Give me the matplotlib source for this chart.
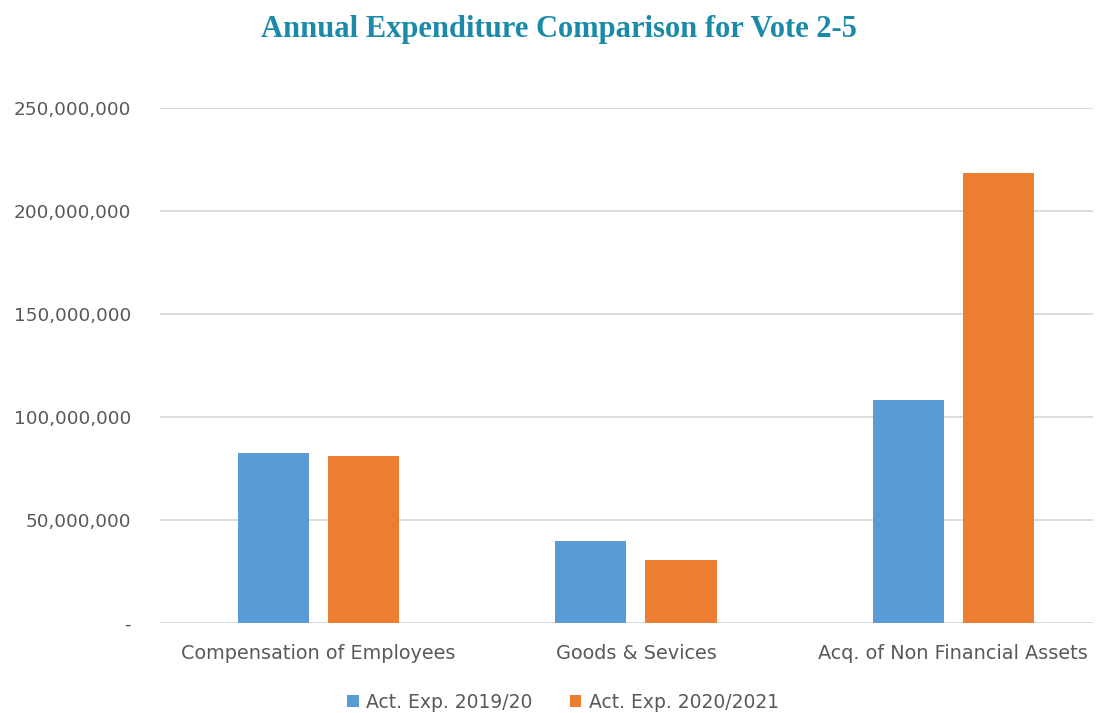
import matplotlib
matplotlib.use("Agg")
import matplotlib.pyplot as plt
import numpy as np
from matplotlib.ticker import FuncFormatter

categories = ["Compensation of Employees", "Goods & Sevices", "Acq. of Non Financial Assets"]
exp_2019 = [82.5e6, 39.8e6, 108.3e6]
exp_2020 = [81.1e6, 30.6e6, 218.4e6]
series_labels = ["Act. Exp. 2019/20", "Act. Exp. 2020/2021"]

BLUE = "#5b9bd5"
ORANGE = "#ed7d31"
GREY = "#595959"

fig = plt.figure(figsize=(11, 7.13), dpi=100)
ax = fig.add_axes([0.1455, 0.1262, 0.848, 0.7223])

x = np.arange(len(categories))
w = 0.224
off = 0.142
ax.bar(x - off, exp_2019, w, color=BLUE, label=series_labels[0], zorder=3)
ax.bar(x + off, exp_2020, w, color=ORANGE, label=series_labels[1], zorder=3)

ax.set_xlim(-0.5, 2.44)
ax.set_ylim(0, 250e6)
ax.set_yticks(np.arange(0, 250e6 + 1, 50e6))
ax.yaxis.set_major_formatter(FuncFormatter(lambda v, p: "-" if v == 0 else f"{v:,.0f}"))
ax.grid(axis="y", color="#d9d9d9", linewidth=1.3, zorder=0)
for s in ax.spines.values():
    s.set_visible(False)
ax.tick_params(length=0, colors=GREY, labelsize=13.3)
ax.tick_params(axis="y", pad=21)
ax.tick_params(axis="x", pad=15, labelsize=13.9)
ax.set_xticks(x)
ax.set_xticklabels(categories)
for t in ax.get_xticklabels() + ax.get_yticklabels():
    t.set_fontfamily("DejaVu Sans")

fig.text(0.508, 0.958, "Annual Expenditure Comparison for Vote 2-5", ha="center", va="center",
         fontsize=22, fontweight="bold", color="#1a8aa8", family="Liberation Serif")

leg = fig.legend(loc="center", bbox_to_anchor=(0.512, 0.015), ncol=2, frameon=False,
                 prop={"family": "DejaVu Sans", "size": 13.5}, handlelength=0.6, handleheight=0.6,
                 handletextpad=0.4, columnspacing=2.0)
for t in leg.get_texts():
    t.set_color(GREY)

fig.savefig("out.png", dpi=100)
